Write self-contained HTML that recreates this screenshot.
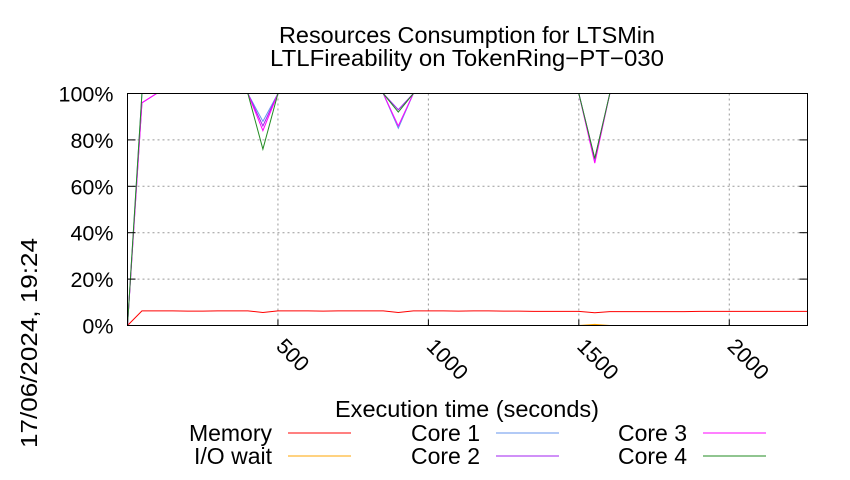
<!DOCTYPE html>
<html><head><meta charset="utf-8"><style>
body{margin:0;background:#fff}
svg text{font-family:"Liberation Sans",sans-serif;font-size:23px;fill:#000}
svg text.tick{font-size:21.5px}
</style></head><body>
<svg id="chart" width="850" height="475">
<g id="grid"></g>
<g id="series"></g>
<g id="axes"></g>
<text x="467" y="43" text-anchor="middle" textLength="376" lengthAdjust="spacingAndGlyphs">Resources Consumption for LTSMin</text>
<text x="467" y="66" text-anchor="middle" textLength="394" lengthAdjust="spacingAndGlyphs">LTLFireability on TokenRing−PT−030</text>
<text x="467" y="417" text-anchor="middle" textLength="264" lengthAdjust="spacingAndGlyphs">Execution time (seconds)</text>
<text transform="translate(37,448) rotate(-90)" textLength="210" lengthAdjust="spacingAndGlyphs">17/06/2024, 19:24</text>
<g id="legend"></g>
</svg>
<script>
const times=[0,48,97,150,200,250,300,350,400,450,500,550,600,650,700,750,800,850,900,950,1000,1050,1100,1150,1200,1250,1300,1350,1400,1450,1500,1553,1603,1650,1700,1750,1800,1850,1900,1950,2000,2050,2100,2150,2200,2260];
const memory=[0,6.3,6.3,6.3,6.2,6.2,6.3,6.3,6.3,5.6,6.3,6.3,6.3,6.2,6.3,6.3,6.3,6.3,5.6,6.3,6.3,6.3,6.2,6.3,6.3,6.2,6.2,6.1,6.1,6.1,6.1,5.5,6.0,6.0,6.0,6.0,6.0,6.0,6.1,6.1,6.1,6.1,6.1,6.1,6.1,6.1];
const iowait=[0,0,0,0,0,0,0,0,0,0,0,0,0,0,0,0,0,0,0,0,0,0,0,0,0,0,0,0,0,0,0,0.5,0,0,0,0,0,0,0,0,0,0,0,0,0,0];
function full(dips){return times.map((t,i)=>dips[t]!==undefined?dips[t]:(t===0?0:100));}
const core1=full({48:100,450:88,900:85,1553:71});
const core2=full({48:96,450:86,900:93,1553:72});
const core3=full({48:96,450:84,900:86,1553:70});
const core4=full({48:100,450:76,900:92,1553:72});
const xTicks=[500,1000,1500,2000];
const yTicks=[0,20,40,60,80,100];
const X0=127.5,X1=807.5,Y0=325.5,Y1=93.5,XMAX=2260;
const sx=v=>X0+v/XMAX*(X1-X0), sy=v=>Y0-v/100*(Y0-Y1);
const NS="http://www.w3.org/2000/svg";
function mk(tag,attrs,parent){const e=document.createElementNS(NS,tag);for(const k in attrs)e.setAttribute(k,attrs[k]);document.getElementById(parent).appendChild(e);return e;}
yTicks.forEach(v=>{
 if(v>0&&v<100){const g=mk('line',{x1:X0,x2:X1,y1:sy(v),y2:sy(v),stroke:'#999','stroke-dasharray':'2,3'},'grid');
 
 }
 const t=mk('line',{x1:X0,x2:X0+8,y1:sy(v),y2:sy(v),stroke:'#000'},'axes');
 
 
 const t2=mk('line',{x1:X1-8,x2:X1,y1:sy(v),y2:sy(v),stroke:'#000'},'axes');
 
 
 const l=mk('text',{x:X0-14,y:sy(v)+8,'text-anchor':'end','class':'tick'},'axes');l.textContent=v+'%';
 
 
});
xTicks.forEach(v=>{
 const g=mk('line',{x1:sx(v),x2:sx(v),y1:Y1,y2:Y0,stroke:'#999','stroke-dasharray':'2,3'},'grid');
 
 
 const t=mk('line',{x1:sx(v),x2:sx(v),y1:Y0,y2:Y0-6,stroke:'#000'},'axes');
 
 
 const l=mk('text',{transform:`translate(${sx(v)-3},${Y0+22}) rotate(45)`,'class':'tick'},'axes');l.textContent=v;
 
 
});
const frame=mk('rect',{x:X0,y:Y1,width:X1-X0,height:Y0-Y1,fill:'none',stroke:'#000','stroke-width':1},'axes');


const series=[['memory',memory,'#ff0000'],['io-wait',iowait,'#ffa500'],['core-1',core1,'#6495ed'],['core-2',core2,'#a020f0'],['core-3',core3,'#ff00ff'],['core-4',core4,'#228b22']];
series.forEach(([n,d,c])=>{
 const p=mk('polyline',{points:times.map((t,i)=>sx(t)+','+sy(d[i])).join(' '),fill:'none',stroke:c,'stroke-width':1},'series');
 
 
});
const leg=[['Memory','#ff0000',272,433],['I/O wait','#ffa500',272,456],['Core 1','#6495ed',480,433],['Core 2','#a020f0',480,456],['Core 3','#ff00ff',687,433],['Core 4','#228b22',687,456]];
leg.forEach(([n,c,x,y])=>{
 const t=mk('text',{x:x,y:y+8,'text-anchor':'end'},'legend');t.textContent=n;
 
 
 const l=mk('line',{x1:x+16,x2:x+79,y1:y,y2:y,stroke:c,'stroke-width':1},'legend');
 
 
});
</script>
</body></html>
